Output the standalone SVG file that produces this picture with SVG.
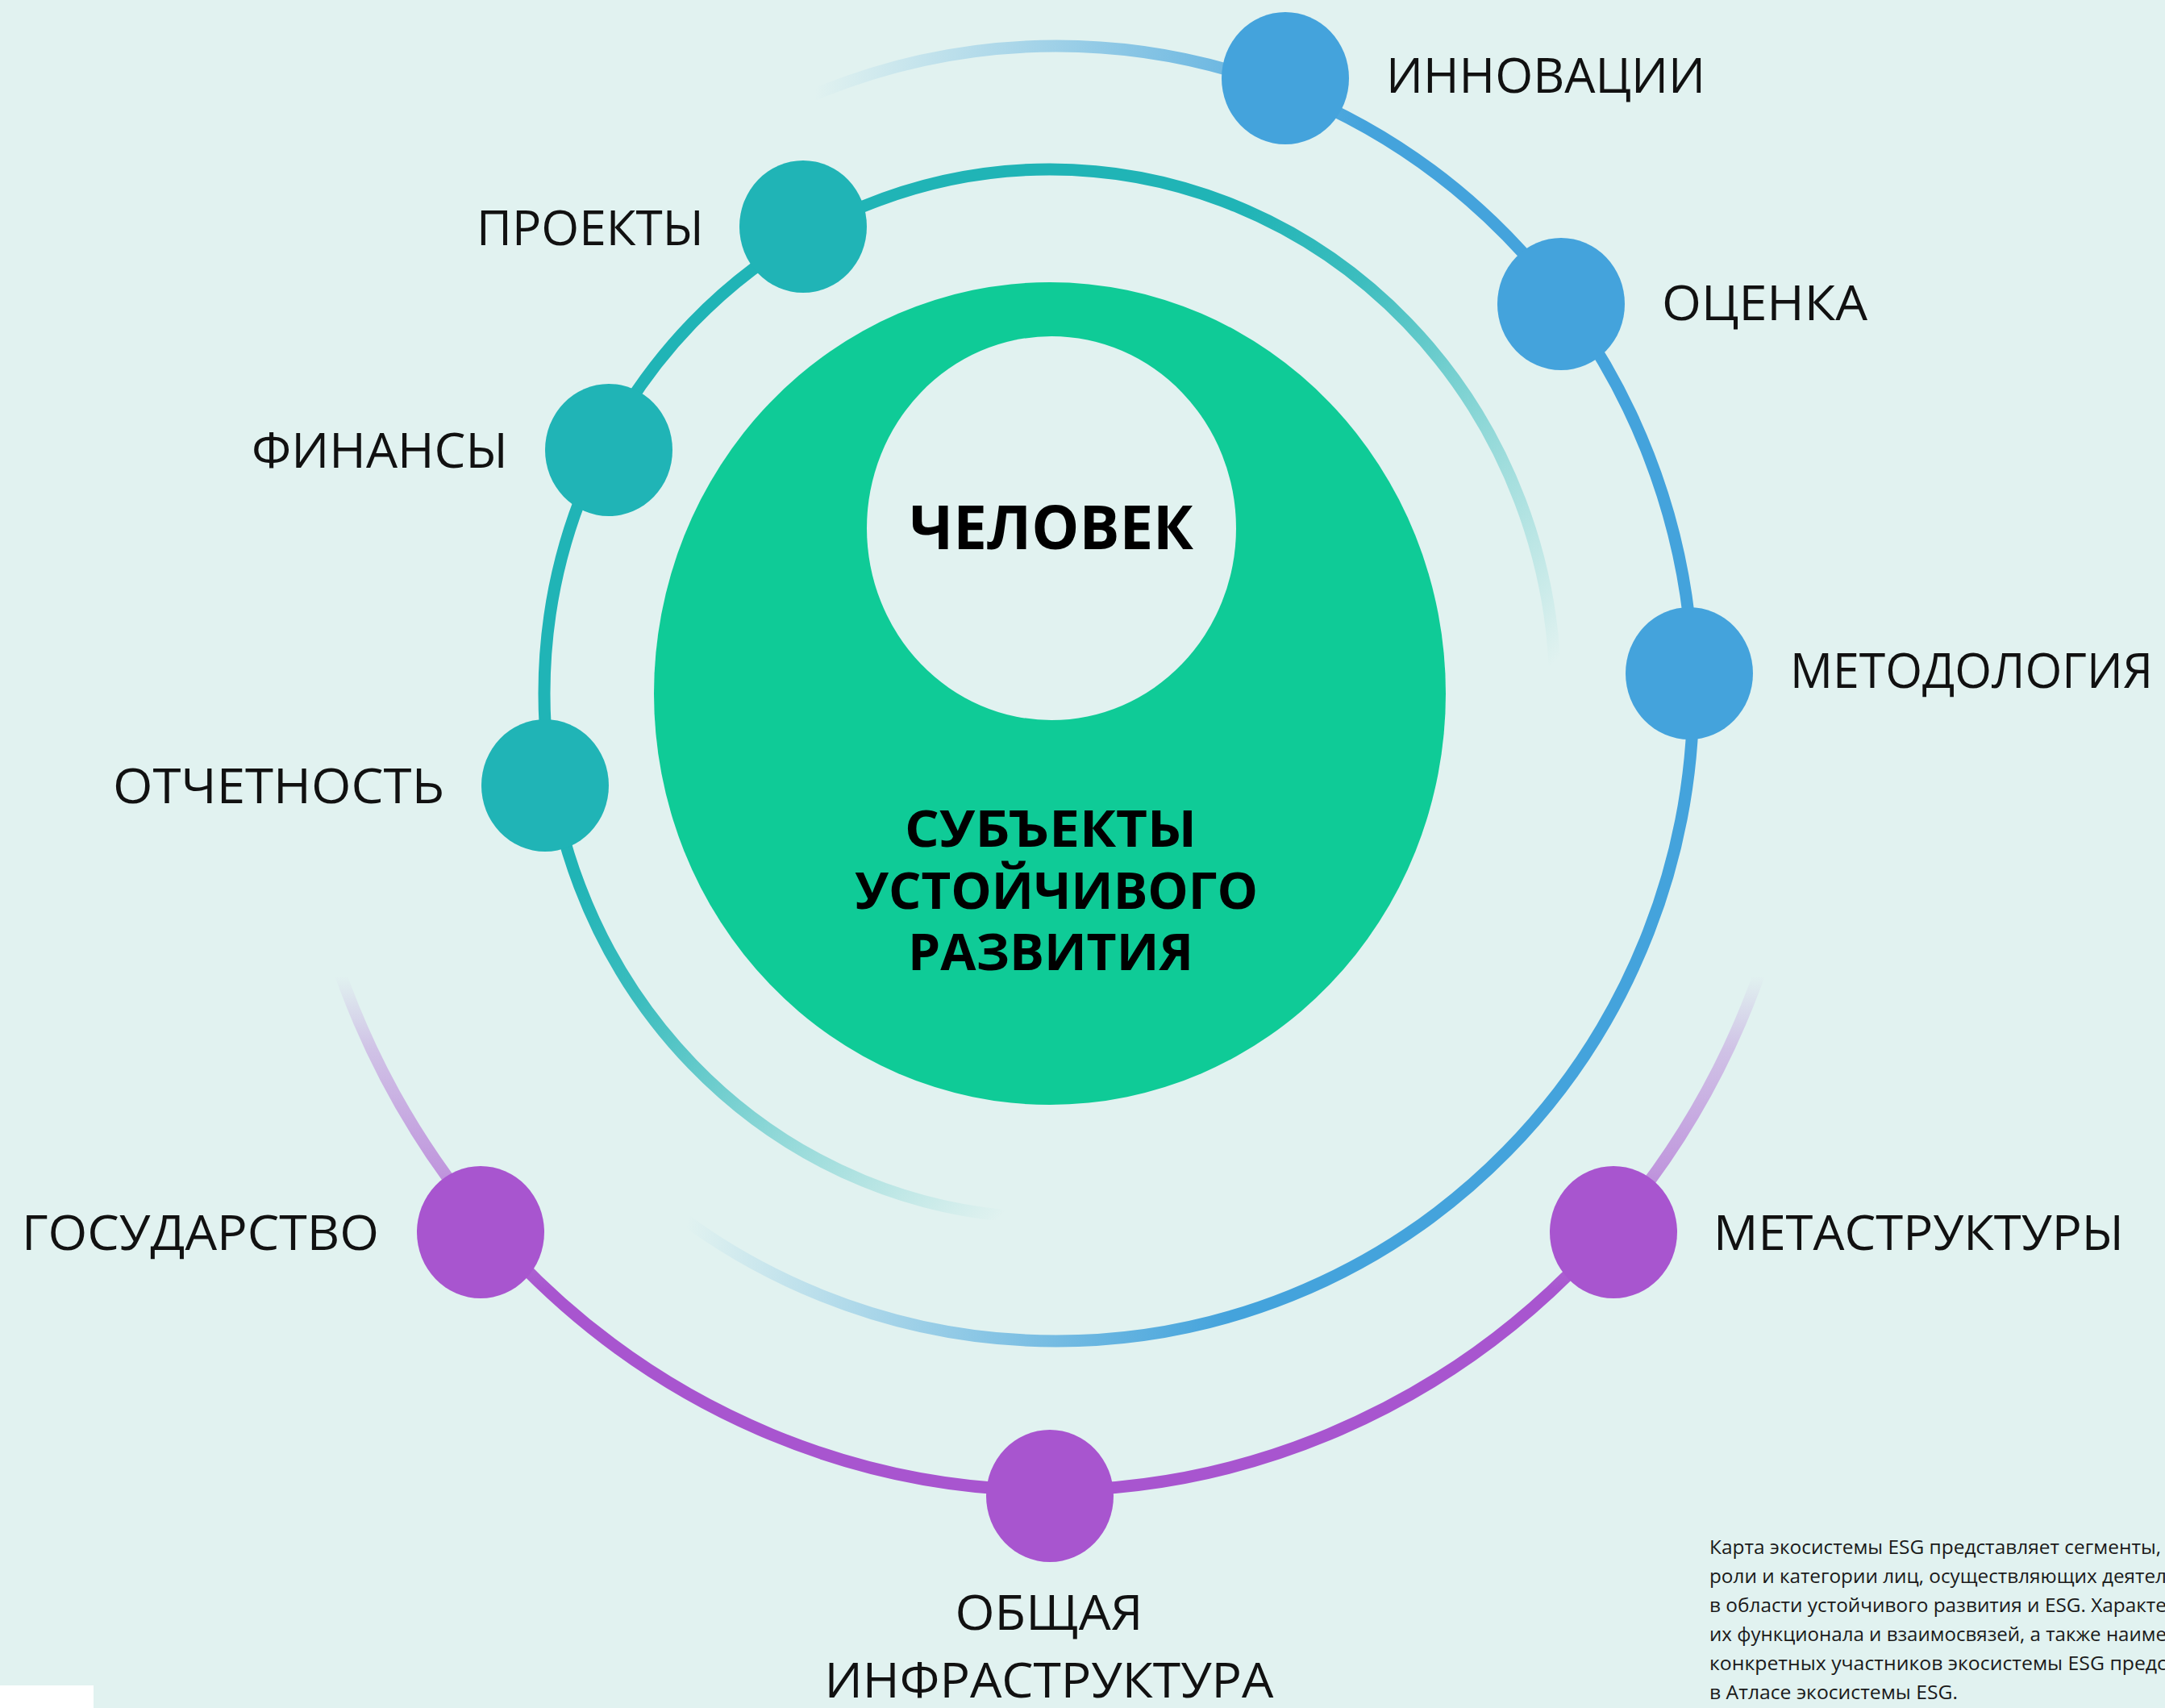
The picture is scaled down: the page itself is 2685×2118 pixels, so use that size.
<svg xmlns="http://www.w3.org/2000/svg" width="2685" height="2118" viewBox="0 0 2685 2118">
<style>
.lbl{font-family:"Open Sans","Noto Sans","DejaVu Sans",sans-serif;font-size:61px;fill:#111;}
.core{font-family:"Open Sans","Noto Sans","DejaVu Sans",sans-serif;font-weight:700;fill:#000;text-anchor:middle;}
.note{font-family:"Open Sans","Noto Sans","DejaVu Sans",sans-serif;font-size:23px;fill:#1a1a1a;}
.ring{fill:none;stroke-width:15;}
.teal{fill:#20b4b6;}
.blue{fill:#44a3dc;}
.purple{fill:#a855cf;}
</style>
<defs>
<linearGradient id="gTeal" gradientUnits="userSpaceOnUse" x1="900" y1="900" x2="1375" y2="1375">
<stop offset="0" stop-color="#20b4b6" stop-opacity="1"/>
<stop offset="0.25" stop-color="#20b4b6" stop-opacity="0.85"/>
<stop offset="0.6" stop-color="#20b4b6" stop-opacity="0.42"/>
<stop offset="1" stop-color="#20b4b6" stop-opacity="0"/>
</linearGradient>
<linearGradient id="gBlue" gradientUnits="userSpaceOnUse" x1="1010" y1="118" x2="1689" y2="195">
<stop offset="0" stop-color="#44a3dc" stop-opacity="0"/>
<stop offset="1" stop-color="#44a3dc" stop-opacity="1"/>
</linearGradient>
<linearGradient id="gPurple" gradientUnits="userSpaceOnUse" x1="0" y1="1210" x2="0" y2="1600">
<stop offset="0" stop-color="#a855cf" stop-opacity="0"/>
<stop offset="0.23" stop-color="#a855cf" stop-opacity="0.3"/>
<stop offset="0.62" stop-color="#a855cf" stop-opacity="0.58"/>
<stop offset="1" stop-color="#a855cf" stop-opacity="1"/>
</linearGradient>
</defs>
<rect x="0" y="0" width="2685" height="2118" fill="#e1f2f0"/>
<rect x="0" y="2090" width="116" height="28" fill="#ffffff"/>
<g id="connectors">
<ellipse class="ring" cx="1302" cy="860" rx="627" ry="650" stroke="url(#gTeal)"/>
<ellipse class="ring" cx="1310" cy="860" rx="790" ry="803" stroke="url(#gBlue)"/>
<ellipse class="ring" cx="1302" cy="860" rx="940" ry="988" stroke="url(#gPurple)"/>
</g>
<g id="core">
<ellipse cx="1302" cy="860" rx="491" ry="510" fill="#0fcb97"/>
<ellipse cx="1304" cy="655" rx="229" ry="238" fill="#e1f2f0"/>
<text class="core" x="1304" y="681" font-size="76" textLength="352" lengthAdjust="spacingAndGlyphs">ЧЕЛОВЕК</text>
<text class="core" x="1303" y="1050" font-size="62" textLength="362" lengthAdjust="spacingAndGlyphs">СУБЪЕКТЫ</text>
<text class="core" x="1310" y="1127" font-size="62" textLength="500" lengthAdjust="spacingAndGlyphs">УСТОЙЧИВОГО</text>
<text class="core" x="1303" y="1203" font-size="62" textLength="354" lengthAdjust="spacingAndGlyphs">РАЗВИТИЯ</text>
</g>
<g id="node-innovatsii">
<ellipse class="blue" cx="1594" cy="97" rx="79" ry="82"/>
<text class="lbl" x="1719" y="115" textLength="396" lengthAdjust="spacingAndGlyphs">ИННОВАЦИИ</text>
</g>
<g id="node-otsenka">
<ellipse class="blue" cx="1936" cy="377" rx="79" ry="82"/>
<text class="lbl" x="2061" y="397" textLength="255" lengthAdjust="spacingAndGlyphs">ОЦЕНКА</text>
</g>
<g id="node-metodologiya">
<ellipse class="blue" cx="2095" cy="835" rx="79" ry="82"/>
<text class="lbl" x="2220" y="853" textLength="450" lengthAdjust="spacingAndGlyphs">МЕТОДОЛОГИЯ</text>
</g>
<g id="node-proekty">
<ellipse class="teal" cx="996" cy="281" rx="79" ry="82"/>
<text class="lbl" x="591" y="304" textLength="282" lengthAdjust="spacingAndGlyphs">ПРОЕКТЫ</text>
</g>
<g id="node-finansy">
<ellipse class="teal" cx="755" cy="558" rx="79" ry="82"/>
<text class="lbl" x="312" y="580" textLength="318" lengthAdjust="spacingAndGlyphs">ФИНАНСЫ</text>
</g>
<g id="node-otchetnost">
<ellipse class="teal" cx="676" cy="974" rx="79" ry="82"/>
<text class="lbl" x="140" y="996" textLength="411" lengthAdjust="spacingAndGlyphs">ОТЧЕТНОСТЬ</text>
</g>
<g id="node-gosudarstvo">
<ellipse class="purple" cx="596" cy="1528" rx="79" ry="82"/>
<text class="lbl" x="27" y="1550" textLength="443" lengthAdjust="spacingAndGlyphs">ГОСУДАРСТВО</text>
</g>
<g id="node-metastruktury">
<ellipse class="purple" cx="2001" cy="1528" rx="79" ry="82"/>
<text class="lbl" x="2125" y="1550" textLength="509" lengthAdjust="spacingAndGlyphs">МЕТАСТРУКТУРЫ</text>
</g>
<g id="node-obshchaya">
<ellipse class="purple" cx="1302" cy="1855" rx="79" ry="82"/>
<text class="lbl" x="1301" y="2021" text-anchor="middle" textLength="233" lengthAdjust="spacingAndGlyphs">ОБЩАЯ</text>
<text class="lbl" x="1301" y="2105" text-anchor="middle" textLength="557" lengthAdjust="spacingAndGlyphs">ИНФРАСТРУКТУРА</text>
</g>
<g id="note">
<text class="note" x="2120" y="1927" textLength="560" lengthAdjust="spacingAndGlyphs">Карта экосистемы ESG представляет сегменты,</text>
<text class="note" x="2120" y="1963" textLength="567" lengthAdjust="spacingAndGlyphs">роли и категории лиц, осуществляющих деятел</text>
<text class="note" x="2120" y="1999" textLength="567" lengthAdjust="spacingAndGlyphs">в области устойчивого развития и ESG. Характе</text>
<text class="note" x="2120" y="2035" textLength="567" lengthAdjust="spacingAndGlyphs">их функционала и взаимосвязей, а также наиме</text>
<text class="note" x="2120" y="2071" textLength="567" lengthAdjust="spacingAndGlyphs">конкретных участников экосистемы ESG предс</text>
<text class="note" x="2120" y="2107" textLength="308" lengthAdjust="spacingAndGlyphs">в Атласе экосистемы ESG.</text>
</g>
</svg>
